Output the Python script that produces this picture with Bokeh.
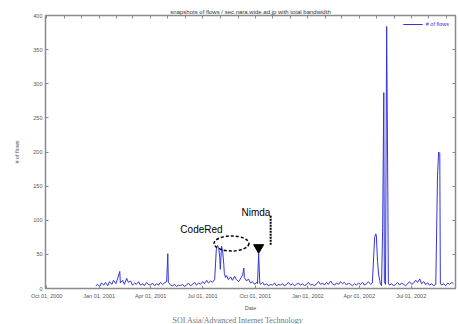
import pandas as pd
from bokeh.plotting import figure
from bokeh.models import (DatetimeAxis, LinearAxis, MonthsTicker, CustomJSTickFormatter,
                          DatetimeTickFormatter, Range1d, Label, Legend, LegendItem, Title)
from bokeh.embed import file_html
from bokeh.resources import INLINE

# ---- data ----
START = "2000-09-29"
END_DAY = 717.5
day_offsets = [88, 91, 95, 98, 102, 105, 109, 112, 116, 119, 123, 126, 130, 131, 135, 138, 142, 145,
               149, 152, 156, 159, 163, 166, 170, 173, 177, 180, 184, 187, 191, 194, 198, 201, 205,
               208, 212, 214, 215, 219, 222, 226, 229, 233, 236, 240, 243, 247, 250, 254, 257, 261,
               264, 268, 271, 275, 278, 282, 285, 289, 292, 296, 299, 301, 303, 305, 306, 308, 310,
               312, 313, 315, 317, 320, 324, 327, 331, 334, 338, 341, 345, 347, 348, 352, 355, 359,
               362, 366, 369, 371, 373, 375, 376, 380, 383, 387, 390, 394, 397, 401, 404, 408, 411,
               415, 418, 422, 425, 429, 432, 436, 439, 443, 446, 450, 453, 457, 460, 464, 467, 471,
               474, 478, 481, 485, 488, 492, 495, 499, 502, 506, 509, 513, 516, 520, 523, 527, 530,
               534, 537, 541, 544, 548, 551, 555, 558, 562, 565, 569, 572, 576, 578, 579, 581, 583,
               585, 586, 588, 590, 592, 593, 595, 597, 599, 600, 602, 606, 609, 613, 616, 620, 623,
               627, 630, 634, 637, 641, 644, 648, 651, 655, 658, 662, 665, 669, 672, 676, 679, 683,
               686, 688, 690, 691, 693, 697, 700, 704, 707, 711, 714]
flows = [4, 6, 3, 8, 5, 9, 4, 10, 6, 12, 7, 14, 25, 8, 12, 6, 15, 9,
         11, 5, 8, 6, 10, 5, 7, 4, 9, 6, 5, 8, 4, 7, 5, 9, 6,
         8, 10, 51, 9, 5, 4, 6, 3, 5, 4, 6, 3, 5, 8, 4, 6, 9,
         5, 8, 6, 10, 7, 12, 8, 11, 9, 13, 58, 63, 60, 45, 28, 62, 55,
         35, 22, 16, 19, 13, 17, 12, 18, 13, 10, 14, 20, 30, 16, 11, 14, 8,
         10, 6, 9, 7, 51, 8, 6, 9, 5, 7, 4, 6, 5, 8, 4, 6, 5,
         7, 4, 6, 9, 5, 7, 4, 6, 8, 5, 7, 4, 6, 9, 5, 6, 4,
         7, 10, 6, 8, 5, 9, 6, 11, 7, 5, 8, 6, 10, 7, 9, 5, 8,
         6, 4, 7, 5, 8, 6, 9, 5, 7, 10, 6, 8, 75, 80, 78, 40, 20,
         12, 6, 4, 88, 287, 10, 6, 384, 146, 8, 5, 7, 4, 6, 9, 5, 8,
         6, 4, 7, 10, 6, 8, 12, 9, 14, 7, 10, 6, 8, 5, 7, 4, 6,
         165, 200, 198, 8, 5, 7, 4, 8, 6, 9, 7]
y_ticks = [0, 50, 100, 150, 200, 250, 300, 350, 400]
quarter_months = [0, 3, 6, 9]          # Jan, Apr, Jul, Oct (0-based)
all_months = list(range(12))

TITLE = "snapshots of flows / sec.nara.wide.ad.jp with total bandwidth"
SERIES = "# of flows"
FOOTER = "SOI Asia/Advanced Internet Technology"

# annotation anchors (day offset, value)
codered_text = (236, 78)
nimda_text = (343, 104)
ellipse_c = (325.5, 66)
ellipse_wh = (61, 22)
tri_pos = (373, 60)
dash_seg = (394, 64, 108)

t0 = pd.Timestamp(START)
DAY_MS = 86400000.0
def d2ms(d):
    return (t0 + pd.Timedelta(days=d)).value / 1e6

dates = [t0 + pd.Timedelta(days=d) for d in day_offsets]

BLUE = "#3535d8"
GRAY = "#8a8a8a"
TXT = "#555555"

p = figure(width=458, height=324, x_axis_type="datetime", output_backend="svg",
           toolbar_location=None, x_range=Range1d(d2ms(0), d2ms(END_DAY)),
           y_range=Range1d(0, 400), min_border_left=45, min_border_right=3,
           min_border_top=15, min_border_bottom=36)
p.background_fill_color = "white"
p.border_fill_color = "white"
p.outline_line_color = GRAY
p.outline_line_width = 1.5
p.xgrid.visible = False
p.ygrid.visible = False

p.title.text = TITLE
p.title.align = "center"
p.title.text_font = "Liberation Sans"
p.title.text_font_size = "6px"
p.title.text_font_style = "normal"
p.title.text_color = "#333333"
p.title.standoff = 2

r = p.line(dates, flows, line_color=BLUE, line_width=1)

# bottom axis
xa = p.xaxis[0]
xa.ticker = MonthsTicker(months=quarter_months)
xa.formatter = DatetimeTickFormatter(months="%b %d, %Y", days="%b %d, %Y")
xa.major_label_text_font_size = "5.5px"
xa.major_label_text_font = "Liberation Sans"
xa.major_label_text_color = TXT
xa.major_tick_in = 3
xa.major_tick_out = 0
xa.minor_tick_line_color = None
xa.axis_line_color = GRAY
xa.major_tick_line_color = GRAY
xa.major_label_standoff = 4
xa.axis_label = "Date"
xa.axis_label_text_font_size = "5.5px"
xa.axis_label_text_font_style = "normal"
xa.axis_label_text_color = TXT
xa.axis_label_standoff = 3

ya = p.yaxis[0]
ya.ticker = y_ticks
ya.major_label_text_font_size = "5.5px"
ya.major_label_text_font = "Liberation Sans"
ya.major_label_text_color = TXT
ya.major_tick_in = 3
ya.major_tick_out = 0
ya.minor_tick_line_color = None
ya.axis_line_color = GRAY
ya.major_tick_line_color = GRAY
ya.major_label_standoff = 3
ya.axis_label = SERIES
ya.axis_label_text_font_size = "5.5px"
ya.axis_label_text_font_style = "normal"
ya.axis_label_text_color = TXT
ya.axis_label_standoff = 10

blank = CustomJSTickFormatter(code="return ''")
# mirrored ticks (top: monthly, right: every 50)
top = DatetimeAxis(ticker=MonthsTicker(months=all_months), formatter=blank,
                   major_tick_in=3, major_tick_out=0,
                   minor_tick_line_color=None, axis_line_color=None,
                   major_tick_line_color=GRAY, major_label_standoff=0)
p.add_layout(top, "above")
right = LinearAxis(ticker=y_ticks, formatter=blank, major_tick_in=3,
                   major_tick_out=0, minor_tick_line_color=None, axis_line_color=None,
                   major_tick_line_color=GRAY, major_label_standoff=0)
p.add_layout(right, "right")

# footer below the x axis
p.add_layout(Title(text=FOOTER, align="left", offset=127, text_font="Liberation Serif",
                   text_font_size="8px", text_font_style="normal", text_color="#777777",
                   standoff=0), "below")

# legend
leg = Legend(items=[LegendItem(label=SERIES, renderers=[r])], location="top_right",
             border_line_color=None, background_fill_alpha=0, label_text_font_size="5.5px",
             label_text_color=BLUE, glyph_width=20, glyph_height=6, padding=2, margin=6,
             label_standoff=3)
p.add_layout(leg)

# annotations
p.ellipse(x=[d2ms(ellipse_c[0])], y=[ellipse_c[1]], width=ellipse_wh[0] * DAY_MS,
          height=ellipse_wh[1], fill_color=None, line_color="black", line_width=1.5,
          line_dash="3 2")
p.scatter(x=[d2ms(tri_pos[0])], y=[tri_pos[1]], marker="inverted_triangle", size=10,
          color="black")
p.segment(x0=[d2ms(dash_seg[0])], y0=[dash_seg[1]], x1=[d2ms(dash_seg[0])],
          y1=[dash_seg[2]], line_color="black", line_width=2, line_dash="2 1")
p.add_layout(Label(x=d2ms(codered_text[0]), y=codered_text[1], text="CodeRed",
                   text_font="Liberation Sans", text_font_size="10px", text_color="black"))
p.add_layout(Label(x=d2ms(nimda_text[0]), y=nimda_text[1], text="Nimda",
                   text_font="Liberation Sans", text_font_size="10px", text_color="black"))

open("out.html", "w").write(file_html(p, INLINE))
